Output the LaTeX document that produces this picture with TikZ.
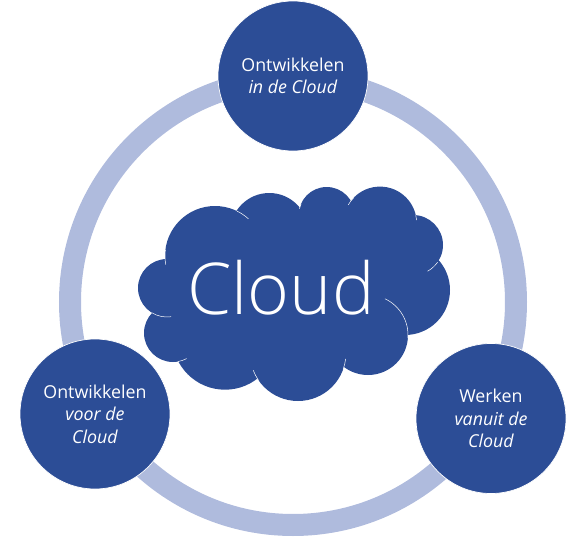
\documentclass[tikz,border=0pt]{standalone}
\usepackage{fontspec}
\setmainfont{Open Sans}
\newfontfamily\lightfont{Open Sans Light}
\usetikzlibrary{calc}
\definecolor{navy}{RGB}{44,77,150}
\definecolor{lightblue}{RGB}{175,187,221}
\newcommand{\seam}[4]{\draw[seamline] ($(#1.center)+(#3:#2)$) arc[start angle=#3,end angle=#4,radius=#2];}
\begin{document}
\begin{tikzpicture}[
  x=1pt,y=-1pt,
  hub/.style={circle,fill=navy,draw=white,line width=0.7pt,inner sep=0pt,
    minimum size=150pt,align=center,text=white,font=\fontsize{17.8}{22.5}\selectfont},
  lobe/.style={circle,fill=navy,inner sep=0pt,minimum size=2*#1*1pt},
  ring/.style={draw=lightblue,line width=22pt},
  seamline/.style={draw=white,line width=0.5pt}
]
\useasboundingbox (0,0) rectangle (587,546);
\coordinate (mid) at (293,302);
\draw[ring] (mid) circle[radius=223];
% cloud lobes
\fill[navy] (208,250) -- (270,225) -- (380,223) -- (405,290) -- (368,335) -- (298,353) -- (225,337) -- (173,333) -- (167,288) -- cycle;
\node[lobe=50] (l1) at (215,256) {};
\node[lobe=39] (l2) at (269.3,232) {};
\node[lobe=28] (l3) at (326.7,215) {};
\node[lobe=36.7] (l4) at (380,223.3) {};
\node[lobe=30] (l5) at (413,245) {};
\node[lobe=45] (l6) at (405,290) {};
\node[lobe=40] (l7) at (368,335) {};
\node[lobe=48] (l8) at (298,353) {};
\node[lobe=52.7] (l9) at (225,337) {};
\node[lobe=29] (l10) at (173,333) {};
\node[lobe=29] (l11) at (167,288) {};
\seam{l1}{50}{-64}{-48}
\seam{l1}{50}{187}{170}
\seam{l3}{28}{193}{204}
\seam{l4}{36.7}{-150}{-135}
\seam{l4}{36.7}{-13}{-5}
\seam{l5}{30}{61}{35}
\seam{l7}{40}{-65}{5}
\seam{l8}{48}{7}{20}
\seam{l8}{48}{159}{145}
\seam{l10}{29}{80}{62}
\seam{l11}{29}{121}{82}
\node[text=white,font=\lightfont\fontsize{71.5}{71.5}\selectfont] (cloud) at (281,288) {Cloud};
\node[hub] (top) at (293,76) {Ontwikkelen\\\textit{in de Cloud}};
\node[hub] (left) at (95,414) {Ontwikkelen\\\textit{voor de}\\\textit{Cloud}};
\node[hub] (right) at (491,418.5) {Werken\\\textit{vanuit de}\\\textit{Cloud}};
\end{tikzpicture}
\end{document}
